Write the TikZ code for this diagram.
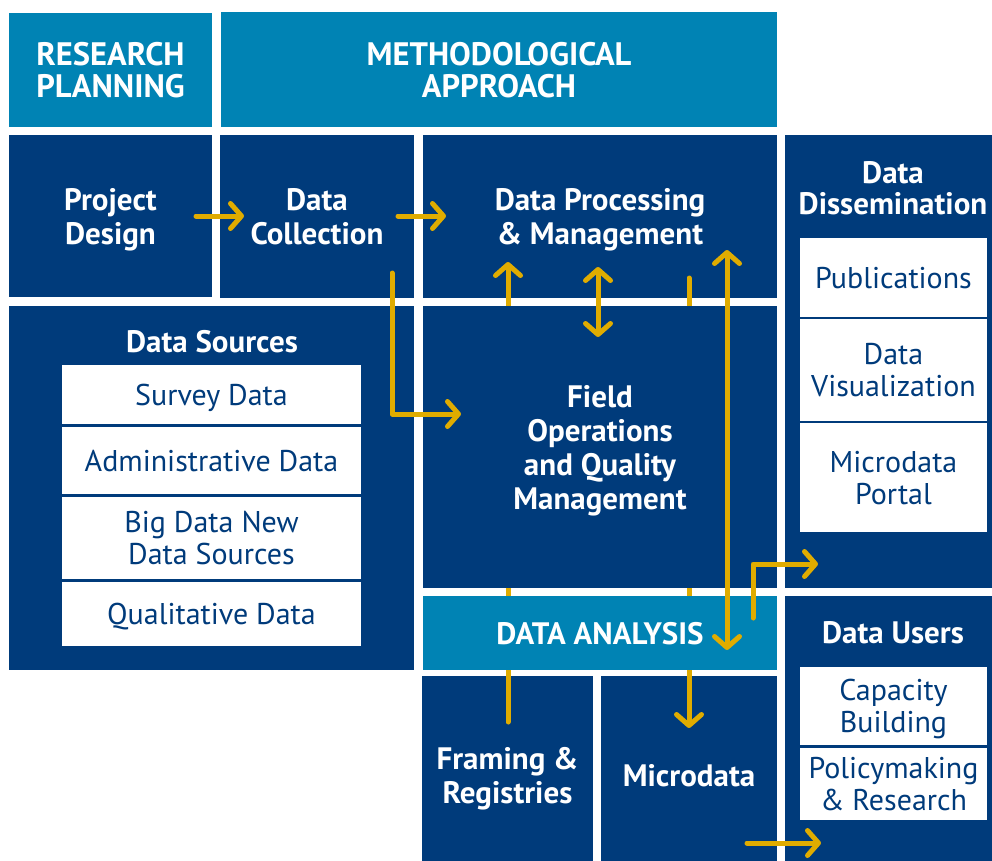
\documentclass[tikz,border=0pt]{standalone}
\usepackage{fontspec}
\setmainfont{PT Sans}
\usetikzlibrary{arrows.meta}
\definecolor{navy}{HTML}{003B7B}
\definecolor{sky}{HTML}{0083B4}
\definecolor{gold}{HTML}{E0AC00}
\begin{document}
\begin{tikzpicture}[x=1pt,y=-1pt,
  blk/.style={fill=navy, draw=none, inner sep=0pt, outer sep=0pt, anchor=north west, text=white,
    font=\bfseries\fontsize{31}{34}\selectfont, align=center, text depth=0pt},
  hdr/.style={blk, fill=sky, font=\bfseries\fontsize{32.5}{32}\selectfont},
  wbox/.style={fill=white, draw=none, inner sep=0pt, outer sep=0pt, anchor=north west, text=navy,
    font=\fontsize{30}{32}\selectfont, align=center, minimum width=187pt, text depth=0pt},
  wsrc/.style={wbox, minimum width=299pt},
  ttl/.style={text=white, font=\bfseries\fontsize{31}{31}\selectfont, align=center, inner sep=0pt, text depth=0pt},
  flow/.style={draw=gold, line width=5pt, line cap=round, line join=round},
  tip/.tip={Straight Barb[length=11pt,width=25pt,round]}
]
\useasboundingbox (0,0) rectangle (992,860);
\clip (0,0) rectangle (992,860);
\fill[white] (0,0) rectangle (992,860);

% headers
\node[hdr, minimum width=203pt, minimum height=114pt] (rp) at (9,13) {RESEARCH\\PLANNING};
\node[hdr, minimum width=556pt, minimum height=115pt] (ma) at (221,12) {METHODOLOGICAL\\APPROACH};

% second row
\node[blk, minimum width=203pt, minimum height=162pt] (pd) at (9,135) {Project\\Design};
\node[blk, minimum width=194pt, minimum height=163pt] (dc) at (220,135) {Data\\Collection};
\node[blk, minimum width=354pt, minimum height=163pt] (dp) at (423,135) {Data Processing\\\& Management};

% dissemination
\node[blk, minimum width=207pt, minimum height=453pt] (dd) at (785,135) {};
\node[ttl] (ddt) at (893,188) {Data\\Dissemination};
\node[wbox, minimum height=79pt] (pub) at (800,238) {Publications};
\node[wbox, minimum height=102pt] (dv) at (800,319) {Data\\Visualization};
\node[wbox, minimum height=109pt] (mp) at (800,423) {Microdata\\Portal};

% data sources
\node[blk, minimum width=405pt, minimum height=364pt] (ds) at (9,306) {};
\node[ttl] (dst) at (212,341) {Data Sources};
\node[wsrc, minimum height=59pt] (sd) at (62,365) {Survey Data};
\node[wsrc, minimum height=67pt] (ad) at (62,427) {Administrative Data};
\node[wsrc, minimum height=82pt] (bd) at (62,497) {Big Data New\\Data Sources};
\node[wsrc, minimum height=64pt] (qd) at (62,582) {Qualitative Data};

% bottom boxes (run past the lower edge)
\node[blk, minimum width=171pt, minimum height=198pt] (fr) at (422,676) {Framing \&\\Registries};
\node[blk, minimum width=176pt, minimum height=198pt] (mi) at (601,676) {Microdata};

% users
\node[blk, minimum width=207pt, minimum height=280pt] (du) at (785,596) {};
\node[ttl] (dut) at (893,632) {Data Users};
\node[wbox, minimum height=78pt] (cb) at (800,667) {Capacity\\Building};
\node[wbox, minimum height=72pt] (pm) at (800,748) {Policymaking\\\& Research};

% connector coordinates
\coordinate (a1s) at (196,216); \coordinate (a1e) at (244,216);
\coordinate (a2s) at (398,216); \coordinate (a2e) at (446,216);
\coordinate (a3s) at (392,273); \coordinate (a3m) at (392,414); \coordinate (a3e) at (461,414);
\coordinate (a4s) at (508,722); \coordinate (a4e) at (508,262);
\coordinate (a5s) at (689,278); \coordinate (a5e) at (689,728);
\coordinate (a6s) at (598,267); \coordinate (a6e) at (598,337);
\coordinate (a7s) at (727,250); \coordinate (a7e) at (727,650);
\coordinate (a8s) at (753,618); \coordinate (a8m) at (753,564); \coordinate (a8e) at (818,564);
\coordinate (a9s) at (747,843); \coordinate (a9e) at (821,843);

% connectors passing behind the field operations block
\draw[flow, -{tip}] (a4s) -- (a4e);
\draw[flow, -{tip}] (a5s) -- (a5e);

% field operations and analysis (on top of hidden lines)
\node[blk, minimum width=354pt, minimum height=282pt] (fo) at (423,306) {Field\\Operations\\and Quality\\Management};
\node[hdr, minimum width=354pt, minimum height=74pt, font=\bfseries\fontsize{31}{32}\selectfont] (da) at (423,596) {DATA ANALYSIS};

% visible connectors
\draw[flow, -{tip}] (a1s) -- (a1e);
\draw[flow, -{tip}] (a2s) -- (a2e);
\draw[flow, -{tip}] (a3s) -- (a3m) -- (a3e);
\draw[flow, {tip}-{tip}] (a6s) -- (a6e);
\draw[flow, {tip}-{tip}] (a7s) -- (a7e);
\draw[flow, -{tip}] (a8s) -- (a8m) -- (a8e);
\draw[flow, -{tip}] (a9s) -- (a9e);
\end{tikzpicture}
\end{document}
